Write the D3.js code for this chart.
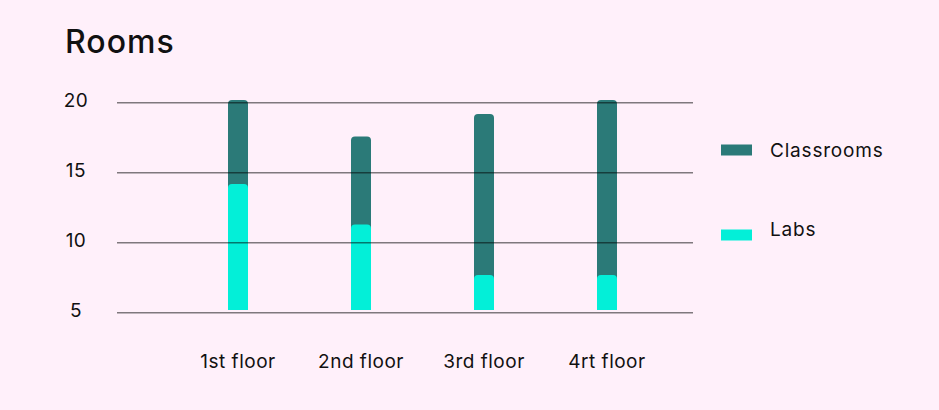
<!DOCTYPE html>
<html><head><meta charset="utf-8">
<script src="https://cdn.jsdelivr.net/npm/d3@7"></script>
<style>
html,body{margin:0;padding:0;background:#fff0fa;}
svg{display:block;}
text{font-family:"Inter","Open Sans",sans-serif;fill:#111;}
</style></head>
<body><svg id="c" width="939" height="410"></svg>
<script>
const categories = ["1st floor","2nd floor","3rd floor","4rt floor"];
const labs = [14, 11.1, 7.5, 7.5];
const classroomsTotal = [20, 17.4, 19, 20];
const yTicks = [5, 10, 15, 20];
const seriesNames = ["Classrooms","Labs"];
const colors = {Classrooms:"#2b7a78", Labs:"#03efd8"};

const svg = d3.select("#c");
svg.append("rect").attr("width",939).attr("height",410).attr("fill","#fff0fa");

const y = d3.scaleLinear().domain([5,20]).range([312.7,102.7]);
const x = d3.scaleBand().domain(categories).range([176.5,668.5]).paddingInner(0).paddingOuter(0);
const barW = 20, r = 4, lift = 2.7;

function topRounded(x0, y0, w, h, rad){
  const p = d3.path();
  p.moveTo(x0, y0 + h);
  p.lineTo(x0, y0 + rad);
  p.quadraticCurveTo(x0, y0, x0 + rad, y0);
  p.lineTo(x0 + w - rad, y0);
  p.quadraticCurveTo(x0 + w, y0, x0 + w, y0 + rad);
  p.lineTo(x0 + w, y0 + h);
  p.closePath();
  return p.toString();
}

const g = svg.append("g");
categories.forEach((c,i)=>{
  const cx = x(c) + x.bandwidth()/2;
  const base = y(5) - lift;
  const tTop = y(classroomsTotal[i]) - lift;
  const lTop = y(labs[i]) - lift;
  g.append("path").attr("d", topRounded(cx - barW/2, tTop, barW, base - tTop, r)).attr("fill", colors.Classrooms);
  g.append("path").attr("d", topRounded(cx - barW/2, lTop, barW, base - lTop, r)).attr("fill", colors.Labs);
});

// gridlines on top of bars
const grid = svg.append("g");
yTicks.forEach(t=>{
  grid.append("line").attr("x1",117).attr("x2",693).attr("y1",y(t)).attr("y2",y(t))
    .attr("stroke","#000").attr("stroke-opacity",0.5).attr("stroke-width",1.6);
  svg.append("text").attr("x",76).attr("y",y(t)-2).attr("text-anchor","middle")
    .attr("dominant-baseline","central").attr("font-size",19).attr("letter-spacing",0.5).text(t);
});

categories.forEach(c=>{
  svg.append("text").attr("x", x(c)+x.bandwidth()/2).attr("y",361).attr("text-anchor","middle")
    .attr("dominant-baseline","central").attr("font-size",19).attr("letter-spacing",0.5).text(c);
});

svg.append("text").attr("x",65).attr("y",53).attr("font-size",32).attr("font-weight",500)
  .attr("letter-spacing",1).text("Rooms");

const legY = [150, 235];
seriesNames.forEach((s,i)=>{
  svg.append("rect").attr("x",721).attr("y",legY[i]-5.5).attr("width",31).attr("height",11).attr("fill",colors[s]);
  svg.append("text").attr("x",770).attr("y",legY[i]-(i?6:0)).attr("dominant-baseline","central")
    .attr("font-size",19).attr("letter-spacing",0.8).text(s);
});
</script></body></html>
